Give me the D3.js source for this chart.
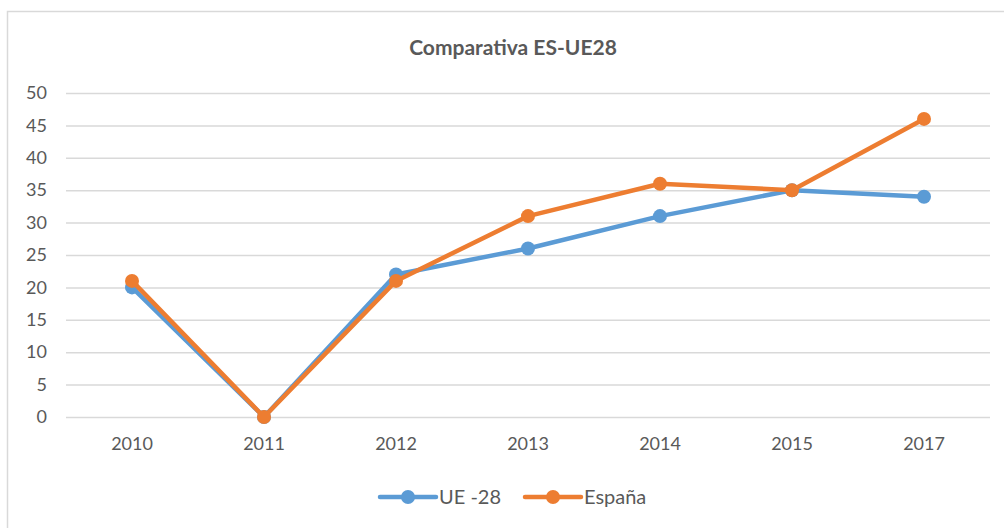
<!DOCTYPE html>
<html>
<head>
<meta charset="utf-8">
<script src="https://cdn.jsdelivr.net/npm/d3@7"></script>
<style>
  body { margin: 0; background: #fff; }
  text { font-family: Lato, "Open Sans", sans-serif; fill: #595959; }
</style>
</head>
<body>
<div id="chart"></div>
<script>
// data
let years = ["2010", "2011", "2012", "2013", "2014", "2015", "2017"];
let ue28 = [20, 0, 22, 26, 31, 35, 34];
let espana = [21, 0, 21, 31, 36, 35, 46];
let yTicks = [0, 5, 10, 15, 20, 25, 30, 35, 40, 45, 50];

let series = [
  { name: "UE -28", values: ue28, color: "#5B9BD5" },
  { name: "España", values: espana, color: "#ED7D31" }
];

let W = 1004, H = 528;
let margin = { top: 93, right: 14, bottom: 111, left: 66 },
  width = W - margin.left - margin.right,
  height = H - margin.top - margin.bottom;

let svg = d3.select("#chart").append("svg")
  .attr("width", W)
  .attr("height", H);

// chart frame
svg.append("rect")
  .attr("x", 7.5).attr("y", 11.5)
  .attr("width", 1010).attr("height", 540)
  .attr("fill", "none")
  .attr("stroke", "#d9d9d9")
  .attr("stroke-width", 1.5);

svg.append("text")
  .attr("x", 513).attr("y", 55)
  .attr("text-anchor", "middle")
  .style("font-weight", "bold")
  .style("font-size", "21px")
  .text("Comparativa ES-UE28");

let g = svg.append("g")
  .attr("transform", `translate(${margin.left},${margin.top})`);

let x = d3.scaleBand().domain(years).range([0, width]);
let y = d3.scaleLinear().domain([0, 50]).range([height, 0]);

// gridlines + y labels
let yAxis = g.append("g")
  .call(d3.axisLeft(y).tickValues(yTicks).tickSize(-width).tickPadding(19));
yAxis.select(".domain").remove();
yAxis.selectAll(".tick line").attr("stroke", "#d9d9d9").attr("stroke-width", 1.5);
yAxis.selectAll(".tick text").style("font-size", "18px").style("fill", "#595959");

// x labels
let xAxis = g.append("g")
  .attr("transform", `translate(0,${height})`)
  .call(d3.axisBottom(x).tickSize(0).tickPadding(20));
xAxis.select(".domain").remove();
xAxis.selectAll(".tick text").style("font-size", "18px").style("fill", "#595959");

let line = d3.line()
  .x((d, i) => x(years[i]) + x.bandwidth() / 2)
  .y(d => y(d));

series.forEach(s => {
  g.append("path")
    .datum(s.values)
    .attr("fill", "none")
    .attr("stroke", s.color)
    .attr("stroke-width", 4.5)
    .attr("stroke-linejoin", "round")
    .attr("d", line);
  g.selectAll(null)
    .data(s.values)
    .join("circle")
    .attr("cx", (d, i) => x(years[i]) + x.bandwidth() / 2)
    .attr("cy", d => y(d))
    .attr("r", 7)
    .attr("fill", s.color);
});

// legend
let legendX = [380, 525];
let legend = svg.selectAll(".legend")
  .data(series)
  .join("g")
  .attr("class", "legend")
  .attr("transform", (d, i) => `translate(${legendX[i]},497)`);
legend.append("line")
  .attr("x1", 0).attr("x2", 56)
  .attr("stroke", d => d.color)
  .attr("stroke-width", 4.5)
  .attr("stroke-linecap", "round");
legend.append("circle")
  .attr("cx", 28).attr("r", 7)
  .attr("fill", d => d.color);
legend.append("text")
  .attr("x", 59).attr("dy", "0.35em")
  .style("font-size", "20px")
  .text(d => d.name);
</script>
</body>
</html>
